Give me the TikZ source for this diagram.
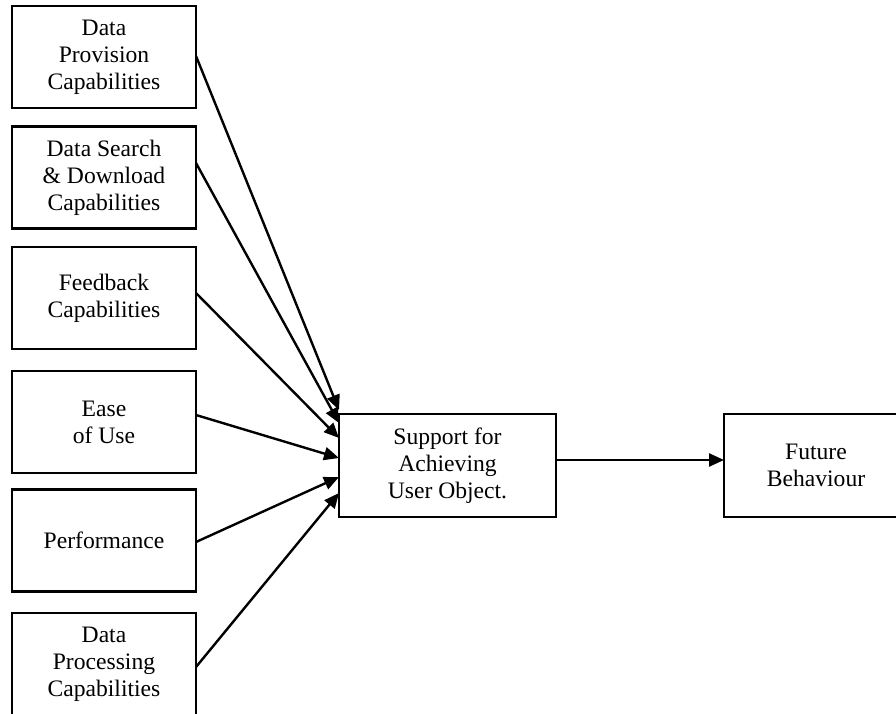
\documentclass[tikz,border=0pt]{standalone}
\usepackage{fontspec}
\setmainfont{Liberation Serif}
\usetikzlibrary{arrows.meta}
\begin{document}
\begin{tikzpicture}[x=1pt,y=-1pt,
  box/.style={draw,line width=2.2pt,inner sep=0pt,outer sep=0pt,align=center,
    font=\fontsize{23.6pt}{27pt}\selectfont},
  leftbox/.style={box,minimum width=184pt,minimum height=102pt},
  conn/.style={line width=2.4pt,-{Triangle[length=15pt,width=13pt]}}]
\useasboundingbox (0,0) rectangle (896,714);
\node[leftbox] (dp) at (104,57) {Data\\Provision\\Capabilities};
\node[leftbox] (ds) at (104,177.5) {Data Search\\\& Download\\Capabilities};
\node[leftbox] (fb) at (104,298) {Feedback\\Capabilities};
\node[leftbox] (eu) at (104,422) {Ease\\of Use};
\node[leftbox] (pf) at (104,540.5) {Performance};
\node[leftbox] (pc) at (104,664) {Data\\Processing\\Capabilities};
\node[box,minimum width=217pt,minimum height=103pt] (sup) at (447.5,465.5) {Support for\\Achieving\\User Object.};
\node[box,minimum width=184pt,minimum height=103pt] (fut) at (816,465.5) {Future\\Behaviour};
\draw[conn] ([yshift=1pt]dp.east) -- ([yshift=55.5pt]sup.west);
\draw[conn] ([yshift=14.5pt]ds.east) -- ([yshift=42.5pt]sup.west);
\draw[conn] ([yshift=5pt]fb.east) -- ([yshift=27.5pt]sup.west);
\draw[conn] ([yshift=7pt]eu.east) -- ([yshift=7.5pt]sup.west);
\draw[conn] ([yshift=-1.5pt]pf.east) -- ([yshift=-11.5pt]sup.west);
\draw[conn] ([yshift=-3pt]pc.east) -- ([yshift=-27.5pt]sup.west);
\draw[conn] ([yshift=5.5pt]sup.east) -- ([yshift=5.5pt]fut.west);
\end{tikzpicture}
\end{document}
